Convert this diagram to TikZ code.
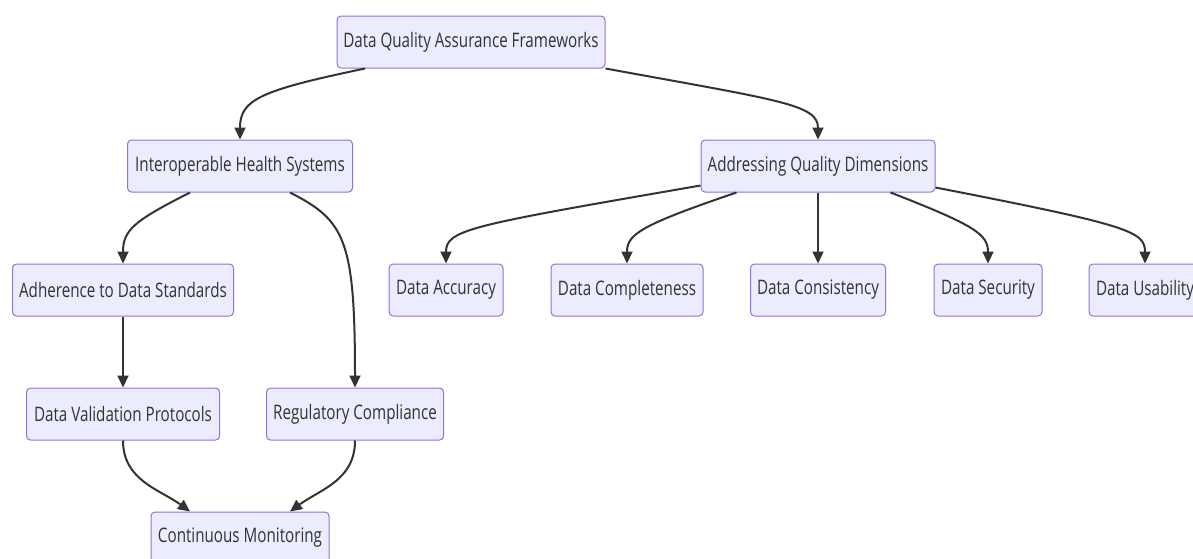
\documentclass[tikz,border=0pt]{standalone}
\usepackage{fontspec}
\setmainfont[FakeStretch=0.76]{Open Sans}
\usetikzlibrary{arrows.meta}

\definecolor{boxfill}{HTML}{ECECFF}
\definecolor{boxline}{HTML}{9370DB}
\definecolor{linkcol}{HTML}{333333}

\begin{document}
\begin{tikzpicture}[
      x=1pt, y=1pt,
      >={Triangle[length=12pt,width=11pt]},
      box/.style={
        draw=boxline,
        fill=boxfill,
        line width=1pt,
        rounded corners=4pt,
        minimum height=52pt,
        inner xsep=6pt,
        text=linkcol,
        font=\fontsize{20}{24}\selectfont
      },
      link/.style={
        ->,
        draw=linkcol,
        line width=2pt
      },
    ]

    \useasboundingbox (0,0) rectangle (1193,-558);

    \node [box, minimum width=268pt] (dqa) at (471,-42) {Data Quality Assurance Frameworks};
    \node [box, minimum width=225pt] (ihs) at (240,-166) {Interoperable Health Systems};
    \node [box, minimum width=234pt] (aqd) at (818,-166) {Addressing Quality Dimensions};

    \node [box, minimum width=221pt] (adh) at (123,-290) {Adherence to Data Standards};
    \node [box, minimum width=114pt] (acc) at (446,-290) {Data Accuracy};
    \node [box, minimum width=152pt] (comp) at (627,-290) {Data Completeness};
    \node [box, minimum width=135pt] (cons) at (818,-290) {Data Consistency};
    \node [box, minimum width=108pt] (sec) at (988,-290) {Data Security};
    \node [box, minimum width=112pt] (usa) at (1145,-290) {Data Usability};

    \node [box, minimum width=193pt] (dvp) at (123,-414) {Data Validation Protocols};
    \node [box, minimum width=177pt] (reg) at (355,-414) {Regulatory Compliance};
    \node [box, minimum width=178pt] (cm) at (240,-538) {Continuous Monitoring};

    \draw [link] ([xshift=-106pt]dqa.south) .. controls +(-105,-22) and +(0,40) .. (ihs.north);
    \draw [link] (dqa.south east) .. controls +(175,-32) and +(0,35) .. (aqd.north);

    \draw [link] ([yshift=7pt]aqd.south west) .. controls +(-231,-40) and +(0,34) .. (acc.north);
    \draw [link] ([xshift=36pt]aqd.south west) .. controls +(-97,-33) and +(0,29) .. (comp.north);
    \draw [link] (aqd) -- (cons);
    \draw [link] ([xshift=-45pt]aqd.south east) .. controls +(85,-33) and +(0,29) .. (sec.north);
    \draw [link] ([yshift=5pt]aqd.south east) .. controls +(195,-38) and +(0,32) .. (usa.north);

    \draw [link] ([xshift=-50pt]ihs.south) .. controls +(-55,-28) and +(0,34) .. (adh.north);
    \draw [link] ([xshift=50pt]ihs.south) .. controls +(55,-28) and +(0,148) .. (reg.north);
    \draw [link] (adh) -- (dvp);

    \draw [link] (dvp.south) .. controls +(0,-40) and +(-30,22) .. ([xshift=-50pt]cm.north);
    \draw [link] (reg.south) .. controls +(0,-40) and +(30,22) .. ([xshift=50pt]cm.north);
  \end{tikzpicture}
\end{document}
